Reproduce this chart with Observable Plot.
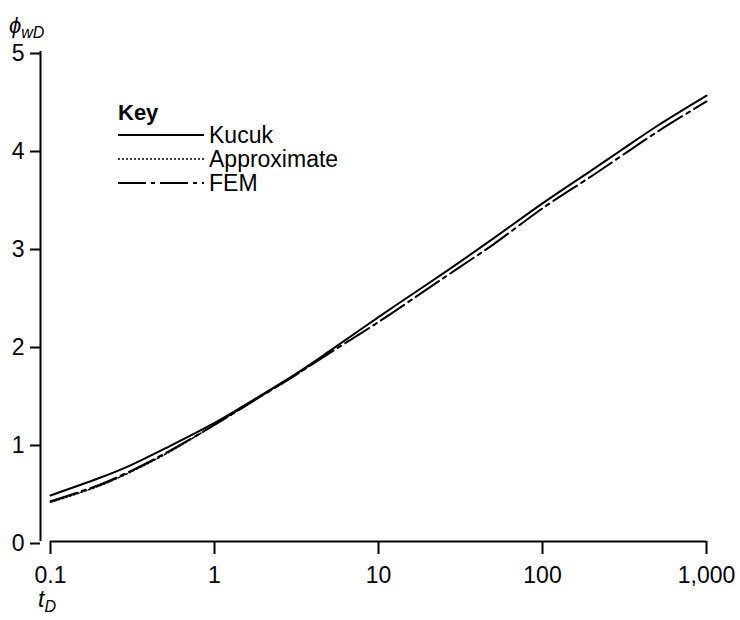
<!DOCTYPE html>
<html>
<head>
<meta charset="utf-8">
<script src="https://cdn.jsdelivr.net/npm/d3@7"></script>
<script src="https://cdn.jsdelivr.net/npm/@observablehq/plot@0.6"></script>
<style>
  html, body { margin: 0; padding: 0; background: #fff; }
  #chart svg { display: block; }
</style>
</head>
<body>
<div id="chart"></div>
<script>
// ---- data ----
const tD = [0.1, 0.2, 0.3, 0.5, 1, 2, 3, 5, 10, 20, 30, 50, 100, 200, 300, 500, 1000];
const kucuk = [0.47, 0.65, 0.77, 0.95, 1.21, 1.51, 1.69, 1.94, 2.29, 2.63, 2.83, 3.09, 3.45, 3.79, 3.99, 4.24, 4.55];
const fem   = [0.41, 0.58, 0.71, 0.90, 1.19, 1.50, 1.68, 1.92, 2.24, 2.58, 2.78, 3.03, 3.40, 3.73, 3.93, 4.18, 4.49];
const approxT = [0.1, 0.2, 0.3, 0.5, 1, 2, 3, 5];
const approx  = [0.40, 0.57, 0.70, 0.89, 1.19, 1.50, 1.68, 1.93];

const seriesNames = ["Kucuk", "Approximate", "FEM"];
const xTicks = [0.1, 1, 10, 100, 1000];
const xTickLabels = ["0.1", "1", "10", "100", "1,000"];
const yTicks = [0, 1, 2, 3, 4, 5];
const xDomain = [0.1, 1000];
const yDomain = [0, 5];

const kucukRows = tD.map((t, i) => ({t, v: kucuk[i]}));
const femRows = tD.map((t, i) => ({t, v: fem[i]}));
const approxRows = approxT.map((t, i) => ({t, v: approx[i]}));

const dash = {Kucuk: null, Approximate: "2,2", FEM: "28,5,4,5"};
const widths = {Kucuk: 2, Approximate: 1.6, FEM: 2};

const font = "'Liberation Sans', Arial, Helvetica, sans-serif";

const plot = Plot.plot({
  width: 740,
  height: 620,
  marginLeft: 40,
  marginRight: 34,
  marginTop: 51,
  marginBottom: 79,
  style: {fontFamily: font, fontSize: "23px", color: "#000", background: "#fff"},
  x: {type: "log", domain: xDomain, insetLeft: 10},
  y: {domain: yDomain},
  marks: [
    // axis lines
    Plot.ruleX([xDomain[0]], {dx: -10, stroke: "#000", strokeWidth: 2}),
    Plot.ruleY([yDomain[0]], {x1: xDomain[0], x2: xDomain[1], stroke: "#000", strokeWidth: 2}),
    Plot.axisY({ticks: yTicks, tickSize: 10, tickPadding: 6, strokeWidth: 2, tickFormat: d => String(d), label: null, fontSize: 23, dy: 2}),
    Plot.axisX({ticks: xTicks, tickSize: 13, tickPadding: 12, strokeWidth: 2,
                tickFormat: d => xTickLabels[xTicks.indexOf(d)], label: null, fontSize: 23}),
    // curves
    Plot.line(approxRows, {x: "t", y: "v", stroke: "#000", strokeWidth: widths.Approximate, strokeDasharray: dash.Approximate, curve: "catmull-rom"}),
    Plot.line(femRows, {x: "t", y: "v", stroke: "#000", strokeWidth: widths.FEM, strokeDasharray: dash.FEM, curve: "catmull-rom"}),
    Plot.line(kucukRows, {x: "t", y: "v", stroke: "#000", strokeWidth: widths.Kucuk, curve: "catmull-rom"})
  ]
});

document.getElementById("chart").appendChild(plot);

// ---- axis titles with subscripts and legend ----
const svg = d3.select(plot);

const yLab = svg.append("text")
  .attr("x", 9).attr("y", 33).attr("text-anchor", "start")
  .attr("font-family", font).attr("font-style", "italic").attr("font-size", 22).attr("fill", "#000");
yLab.append("tspan").text("\u03D5");
yLab.append("tspan").attr("dy", 5).attr("font-size", 16).text("wD");

const xLab = svg.append("text")
  .attr("x", 38).attr("y", 607).attr("text-anchor", "start")
  .attr("font-family", font).attr("font-style", "italic").attr("font-size", 23).attr("fill", "#000");
xLab.append("tspan").text("t");
xLab.append("tspan").attr("dy", 5).attr("font-size", 16).text("D");

const leg = svg.append("g").attr("font-family", font).attr("fill", "#000").attr("text-anchor", "start");
leg.append("text").attr("x", 118).attr("y", 120).attr("font-weight", "bold").attr("font-size", 22).text("Key");
const rowY = [135, 159, 183];
seriesNames.forEach((name, i) => {
  leg.append("line")
    .attr("x1", 118).attr("x2", 204)
    .attr("y1", rowY[i]).attr("y2", rowY[i])
    .attr("stroke", "#000")
    .attr("stroke-width", widths[name])
    .attr("stroke-dasharray", dash[name]);
  leg.append("text")
    .attr("x", 209).attr("y", rowY[i]).attr("dy", "0.36em")
    .attr("font-size", 23).text(name);
});
</script>
</body>
</html>
